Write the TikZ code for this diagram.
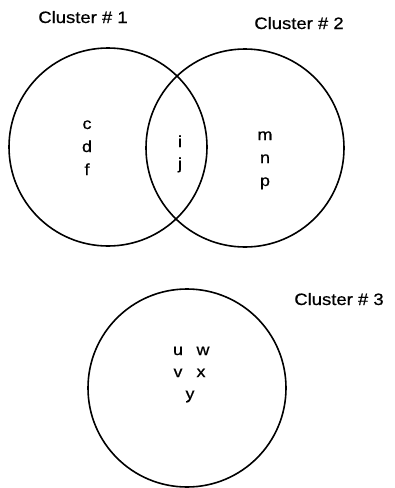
\documentclass[tikz,border=0pt]{standalone}
\usepackage{fontspec}
\setmainfont[FakeStretch=1.12,FakeBold=0.6]{Liberation Sans}
\begin{document}
\begin{tikzpicture}[x=1pt,y=-1pt,
  cluster/.style={circle,draw,line width=1.6pt,minimum size=198pt,inner sep=0pt},
  title/.style={anchor=base,font=\fontsize{16.5}{18}\selectfont,inner sep=0pt},
  item/.style={anchor=base,font=\fontsize{16}{18}\selectfont,inner sep=0pt}]
\useasboundingbox (0,0) rectangle (395,488);
\node[cluster] (c1) at (108,147) {};
\node[cluster] (c2) at (245,148) {};
\node[cluster] (c3) at (187,388) {};
\node[title] (t1) at (83,23) {Cluster \# 1};
\node[title] (t2) at (299,29) {Cluster \# 2};
\node[title] (t3) at (339,305) {Cluster \# 3};
\node[item] (ic) at (87,129) {c};
\node[item] (id) at (87,152) {d};
\node[item] (if) at (87,175) {f};
\node[item] (ii) at (180,147) {i};
\node[item] (ij) at (180,169) {j};
\node[item] (im) at (265,140) {m};
\node[item] (in) at (265,163) {n};
\node[item] (ip) at (265,186) {p};
\node[item] (iu) at (178,355) {u};
\node[item] (iw) at (203,355) {w};
\node[item] (iv) at (178,377) {v};
\node[item] (ix) at (201,377) {x};
\node[item] (iy) at (190,399) {y};
\end{tikzpicture}
\end{document}
